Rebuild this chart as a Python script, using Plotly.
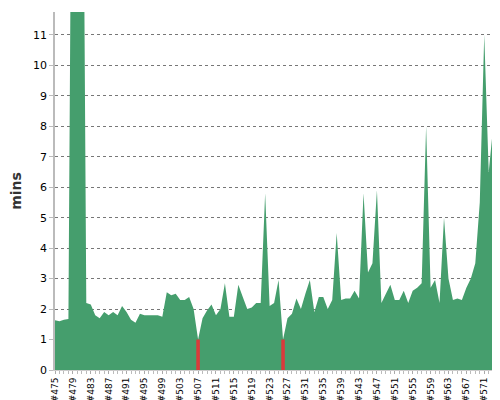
import plotly.graph_objects as go

builds = list(range(475, 575))
mins = [1.63, 1.6, 1.65, 1.67, 25, 25, 25, 2.2, 2.15, 1.8,
        1.7, 1.9, 1.8, 1.9, 1.8, 2.1, 1.9, 1.65, 1.55, 1.85,
        1.8, 1.8, 1.8, 1.8, 1.75, 2.55, 2.45, 2.5, 2.3, 2.3,
        2.4, 2.0, 1.0, 1.7, 1.95, 2.15, 1.8, 2.0, 2.85, 1.75,
        1.75, 2.8, 2.4, 2.0, 2.05, 2.2, 2.2, 5.8, 2.1, 2.2,
        2.95, 1.0, 1.7, 1.85, 2.35, 2.0, 2.5, 2.95, 1.9, 2.4,
        2.4, 2.0, 2.3, 4.5, 2.3, 2.35, 2.35, 2.6, 2.35, 5.8,
        3.2, 3.5, 5.9, 2.2, 2.5, 2.8, 2.3, 2.3, 2.6, 2.2,
        2.6, 2.7, 2.85, 8.0, 2.7, 2.95, 2.2, 5.0, 3.0, 2.3,
        2.35, 2.3, 2.7, 3.0, 3.5, 5.5, 11.0, 6.5, 8.0, 2.8]
failed = [507, 526]

tick_builds = list(range(475, 575, 4))
tick_labels = ["#%d" % b for b in tick_builds]

fig = go.Figure()
fig.add_trace(go.Scatter(x=builds, y=mins, mode='lines', line=dict(width=0, color='#459e6d'),
                         fill='tozeroy', fillcolor='#459e6d', hoverinfo='skip'))

for b in failed:
    v = mins[builds.index(b)]
    fig.add_trace(go.Scatter(x=[b - 0.4, b - 0.4, b + 0.4, b + 0.4], y=[0, v, v, 0],
                             mode='lines', line=dict(width=0), fill='toself',
                             fillcolor='#d93b3b'))

fig.update_layout(
    width=500, height=400,
    margin=dict(l=47, r=9, t=4, b=38),
    showlegend=False,
    plot_bgcolor='white', paper_bgcolor='white',
    font=dict(family='DejaVu Sans', size=11, color='black'),
    xaxis=dict(range=[475, 574.3], tickmode='array', tickvals=tick_builds, ticktext=tick_labels,
               tickangle=-90, showgrid=False, zeroline=False, ticks='outside', ticklen=3,
               tickcolor='#aaa', showline=True, linecolor='#ccc', automargin=False,
               minor=dict(dtick=1, ticks='outside', ticklen=3, tickcolor='#bbb'),
               tickfont=dict(size=9)),
    yaxis=dict(range=[0, 11.75], dtick=1, showgrid=True, gridcolor='#777', griddash='dot',
               zeroline=False, showline=True, linecolor='#bbb', linewidth=1.5,
               ticks='outside', ticklen=4, tickcolor='#bbb', automargin=False,
               title=dict(text='<b>mins</b>', font=dict(size=14, color='#333'), standoff=10)),
)

fig.write_html("out.html")
